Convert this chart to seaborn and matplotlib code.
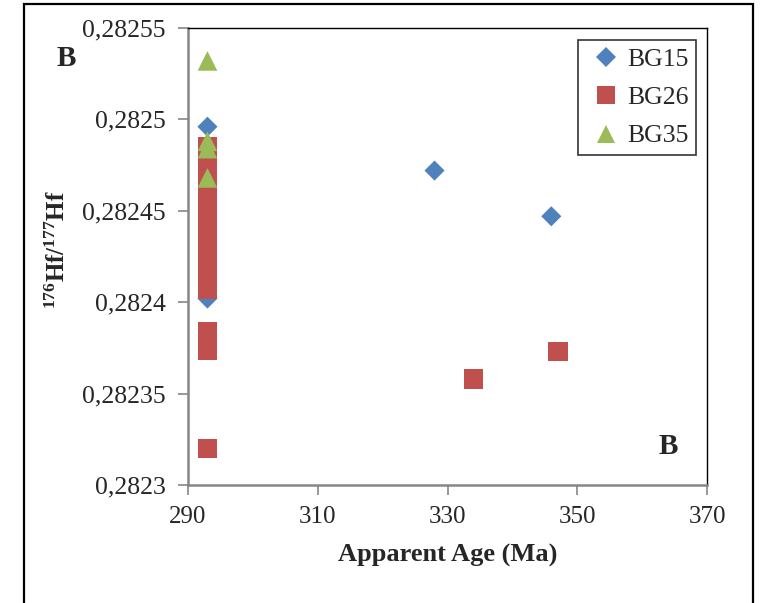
import numpy as np
import pandas as pd
import seaborn as sns
import matplotlib
matplotlib.use("Agg")
import matplotlib.pyplot as plt
from matplotlib.patches import Rectangle
from matplotlib.lines import Line2D

# ---- data ----
bg15_age = [293, 293, 328, 346]
bg15_hf = [0.282496, 0.282402, 0.282472, 0.282447]

bg26_age = [293] * 23 + [334, 347]
bg26_hf = [0.282485, 0.282480, 0.282476, 0.282472, 0.282468, 0.282463, 0.282458,
           0.282454, 0.282449, 0.282445, 0.282441, 0.282437, 0.282433, 0.282429,
           0.282425, 0.282421, 0.282417, 0.282412, 0.282407, 0.282384, 0.282379,
           0.282374, 0.282320, 0.282358, 0.282373]

bg35_age = [293, 293, 293, 293]
bg35_hf = [0.282532, 0.282488, 0.282484, 0.282468]

series_names = ["BG15", "BG26", "BG35"]
x_ticks = [290, 310, 330, 350, 370]
y_ticks = [0.2823, 0.28235, 0.2824, 0.28245, 0.2825, 0.28255]
y_tick_labels = ["0,2823", "0,28235", "0,2824", "0,28245", "0,2825", "0,28255"]

df = pd.concat([
    pd.DataFrame({"age": bg15_age, "hf": bg15_hf, "sample": series_names[0]}),
    pd.DataFrame({"age": bg26_age, "hf": bg26_hf, "sample": series_names[1]}),
    pd.DataFrame({"age": bg35_age, "hf": bg35_hf, "sample": series_names[2]}),
], ignore_index=True)

sns.set_style("white")
plt.rcParams["font.family"] = ["Liberation Serif", "DejaVu Serif"]
plt.rcParams["mathtext.fontset"] = "custom"
plt.rcParams["mathtext.rm"] = "Liberation Serif"
plt.rcParams["mathtext.bf"] = "Liberation Serif:bold"

colors = {"BG15": "#4F81BD", "BG26": "#C0504D", "BG35": "#9BBB59"}
markers = {"BG15": "D", "BG26": "s", "BG35": "^"}
sizes_map = {"BG15": 105, "BG26": 200, "BG35": 200}

fig = plt.figure(figsize=(7.65, 6.03), dpi=100)
ax = fig.add_axes([188 / 765, 1 - 485 / 603, 519 / 765, 457 / 603])

for name in series_names:
    sub = df[df["sample"] == name]
    sns.scatterplot(data=sub, x="age", y="hf", color=colors[name], marker=markers[name],
                    s=sizes_map[name], edgecolor="none", linewidth=0, ax=ax, legend=False)

ax.set_xlim(290, 370)
ax.set_ylim(0.2823, 0.28255)
ax.set_xticks(x_ticks)
ax.set_xticklabels([str(t) for t in x_ticks])
ax.set_yticks(y_ticks)
ax.set_yticklabels(y_tick_labels)

gray = "#868686"
for side in ["left", "bottom"]:
    ax.spines[side].set_color(gray)
    ax.spines[side].set_linewidth(1.8)
for side in ["top", "right"]:
    ax.spines[side].set_color("black")
    ax.spines[side].set_linewidth(1.0)

ax.tick_params(axis="y", direction="out", length=7, width=1.2, color=gray,
               labelsize=18.5, pad=9, left=True)
ax.tick_params(axis="x", direction="out", length=7, width=1.2, color=gray,
               labelsize=18, pad=8, bottom=True)

ax.set_xlabel("Apparent Age (Ma)", fontsize=19, fontweight="bold")
ax.set_ylabel(r"$\mathbf{^{176}Hf/^{177}Hf}$", fontsize=18)
ax.xaxis.set_label_coords(0.5, -0.128)
ax.yaxis.set_label_coords(-0.227, 0.514)

handles = [Line2D([0], [0], linestyle="none", marker=markers[n], color=colors[n],
                  markersize=(10 if n == "BG15" else 13), markeredgewidth=0)
           for n in series_names]
leg = ax.legend(handles, series_names, loc="upper right",
                bbox_to_anchor=((696 - 188) / 519, 1 - 12 / 457),
                fontsize=18.5, frameon=True, fancybox=False, borderpad=0.3,
                handletextpad=0.0, handlelength=1.6, labelspacing=0.6, borderaxespad=0)
leg.get_frame().set_edgecolor("black")
leg.get_frame().set_linewidth(1.2)

fig.text(66 / 765, 1 - 58 / 603, "B", fontsize=21, fontweight="bold", ha="center", va="center")
fig.text(668 / 765, 1 - 447 / 603, "B", fontsize=21, fontweight="bold", ha="center", va="center")

fig.patches.append(Rectangle((24 / 765, -0.05), (753 - 24) / 765, 1.05 - 4 / 603,
                             transform=fig.transFigure, fill=False, edgecolor="black",
                             linewidth=1.6, clip_on=False))

fig.savefig("out.png", dpi=100)
